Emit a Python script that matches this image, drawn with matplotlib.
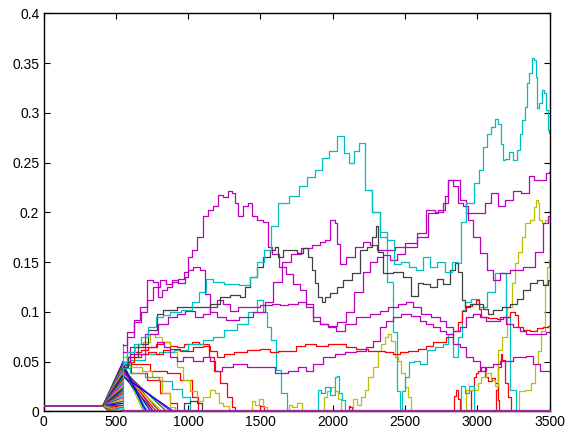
import matplotlib
matplotlib.use("Agg")
import matplotlib.pyplot as plt

plt.rcParams['font.family'] = ['Liberation Sans', 'DejaVu Sans']

# MATLAB (pre-2014) default colour order
B = (0, 0, 1); G = (0, 0.5, 0); R = (1, 0, 0); C = (0, 0.75, 0.75)
M = (0.75, 0, 0.75); Y = (0.75, 0.75, 0); K = (0.25, 0.25, 0.25)
ORDER = [B, G, R, C, M, Y, K]

x_ticks = [0, 500, 1000, 1500, 2000, 2500, 3000, 3500]
y_ticks = [0, 0.05, 0.1, 0.15, 0.2, 0.25, 0.3, 0.35, 0.4]
y_tick_labels = ['0', '0.05', '0.1', '0.15', '0.2', '0.25', '0.3', '0.35', '0.4']

# initial flat level and fan (x=410 -> 550)
base_level = 0.0055
fan_start_x = 410
fan_end_x = 550
fan_end_values = [0.05, 0.048, 0.046, 0.044, 0.042, 0.04, 0.038, 0.036, 0.034,
                  0.032, 0.03, 0.028, 0.026, 0.024, 0.022, 0.02, 0.018, 0.016,
                  0.014, 0.012, 0.01, 0.008, 0.006, 0.004, 0.002, 0.0]
fan_zero_x = [450, 470, 490, 510, 530]

# lines that decay to zero right after x=550
bundle_start = [0.048, 0.046, 0.045, 0.044, 0.043, 0.042, 0.041, 0.040, 0.039,
                0.038, 0.037, 0.036, 0.035]
bundle_end_x = [714, 700, 760, 690, 800, 740, 850, 780, 720, 880, 820, 760, 900]

blue_1 = [(550, 0.047), (690, 0.005), (714, 0.0)]

cyan_a = [(550, 0.05), (600, 0.06), (650, 0.068), (700, 0.075), (750, 0.085), (800, 0.095),
          (850, 0.097), (900, 0.1), (1000, 0.102), (1050, 0.11), (1100, 0.12), (1150, 0.133),
          (1200, 0.13), (1300, 0.128), (1400, 0.127), (1450, 0.135), (1500, 0.15), (1550, 0.162),
          (1590, 0.186), (1660, 0.209), (1730, 0.216), (1800, 0.226), (1850, 0.235), (1900, 0.243),
          (1950, 0.255), (2000, 0.262), (2056, 0.277), (2100, 0.26), (2130, 0.25), (2160, 0.262),
          (2200, 0.27), (2250, 0.222), (2300, 0.2), (2350, 0.18), (2400, 0.172), (2450, 0.148),
          (2500, 0.15), (2550, 0.145), (2600, 0.142), (2650, 0.155), (2700, 0.145), (2750, 0.15),
          (2800, 0.14), (2850, 0.15), (2880, 0.149), (2900, 0.19), (2950, 0.209), (3000, 0.229),
          (3030, 0.242), (3055, 0.266), (3080, 0.279), (3110, 0.286), (3135, 0.294), (3158, 0.289),
          (3170, 0.269), (3180, 0.253), (3205, 0.254), (3240, 0.261), (3260, 0.253), (3285, 0.263),
          (3300, 0.279), (3320, 0.293), (3340, 0.306), (3355, 0.33), (3365, 0.34), (3390, 0.355),
          (3400, 0.353), (3412, 0.336), (3420, 0.305), (3435, 0.31), (3455, 0.323), (3470, 0.32),
          (3482, 0.303), (3492, 0.283), (3500, 0.28)]
cyan_b = [(550, 0.048), (650, 0.052), (750, 0.058), (850, 0.06), (950, 0.062), (1050, 0.068),
          (1150, 0.072), (1200, 0.075), (1300, 0.082), (1382, 0.088), (1450, 0.1), (1500, 0.112),
          (1530, 0.1), (1560, 0.085), (1590, 0.072), (1622, 0.042), (1657, 0.018), (1705, 0.0)]
cyan_d = [(550, 0.044), (650, 0.038), (750, 0.034), (852, 0.03), (920, 0.022), (990, 0.014),
          (1030, 0.0)]
cyan_e = [(2250, 0.222), (2300, 0.2), (2350, 0.175), (2400, 0.13), (2430, 0.08), (2455, 0.02),
          (2470, 0.0), (2490, 0.02), (2509, 0.034), (2550, 0.05), (2580, 0.051), (2626, 0.048),
          (2674, 0.062), (2743, 0.065), (2786, 0.068), (2812, 0.078), (2855, 0.055), (2880, 0.075),
          (2904, 0.102), (2930, 0.11), (2980, 0.113), (3040, 0.105), (3100, 0.12), (3150, 0.139),
          (3190, 0.139), (3204, 0.095), (3247, 0.021), (3294, 0.0)]
cyan_s1 = [(1887, 0.0), (1910, 0.021), (1935, 0.018), (1956, 0.024), (2003, 0.016), (2025, 0.034),
           (2040, 0.035), (2049, 0.018), (2074, 0.011), (2097, 0.0)]
cyan_s2 = [(2880, 0.0), (2900, 0.025), (2930, 0.018), (2960, 0.025), (2990, 0.0)]
cyan_jump = [(550, 0.0), (550, 0.068)]

gray_k = [(550, 0.045), (621, 0.055), (690, 0.068), (760, 0.082), (806, 0.098), (852, 0.102),
          (990, 0.105), (1105, 0.105), (1198, 0.108), (1244, 0.115), (1336, 0.117), (1382, 0.115),
          (1405, 0.125), (1451, 0.135), (1498, 0.145), (1544, 0.155), (1590, 0.162), (1613, 0.165),
          (1636, 0.155), (1682, 0.162), (1728, 0.162), (1774, 0.159), (1820, 0.164), (1843, 0.155),
          (1866, 0.142), (1890, 0.129), (1913, 0.115), (1935, 0.11), (1959, 0.115), (2005, 0.119),
          (2051, 0.125), (2097, 0.132), (2166, 0.139), (2212, 0.162), (2258, 0.165), (2290, 0.175),
          (2305, 0.186), (2328, 0.16), (2374, 0.139), (2466, 0.14), (2512, 0.135), (2570, 0.116),
          (2604, 0.129), (2650, 0.128), (2696, 0.125), (2743, 0.133), (2789, 0.128), (2835, 0.142),
          (2858, 0.149), (2881, 0.14), (2904, 0.112), (2927, 0.105), (2973, 0.108), (3019, 0.108),
          (3066, 0.103), (3089, 0.098), (3135, 0.102), (3204, 0.105), (3250, 0.108), (3296, 0.113),
          (3342, 0.122), (3388, 0.129), (3434, 0.132), (3481, 0.127), (3500, 0.132)]
gray_s = [(960, 0.0), (990, 0.008), (1040, 0.01), (1080, 0.008), (1110, 0.0)]

yellow_1 = [(550, 0.055), (600, 0.06), (667, 0.065), (714, 0.07), (760, 0.078), (783, 0.075),
            (852, 0.07), (898, 0.06), (944, 0.045), (990, 0.031), (1036, 0.02), (1083, 0.01),
            (1129, 0.014), (1175, 0.021), (1200, 0.018), (1221, 0.008), (1260, 0.005), (1300, 0.0)]
yellow_2 = [(550, 0.05), (650, 0.045), (714, 0.041), (783, 0.034), (852, 0.018), (898, 0.004),
            (920, 0.0)]
yellow_s1 = [(1430, 0.0), (1450, 0.01), (1480, 0.006), (1500, 0.012), (1530, 0.004), (1560, 0.0)]
yellow_s2 = [(1690, 0.0), (1700, 0.006), (1740, 0.004), (1770, 0.008), (1800, 0.0)]
yellow_s3 = [(1930, 0.0), (1945, 0.014), (1980, 0.02), (2003, 0.024), (2030, 0.02), (2050, 0.012),
             (2065, 0.0)]
yellow_3 = [(2130, 0.0), (2150, 0.012), (2180, 0.006), (2210, 0.014), (2233, 0.021), (2256, 0.034),
            (2302, 0.045), (2325, 0.061), (2348, 0.068), (2371, 0.075), (2395, 0.078), (2417, 0.071),
            (2440, 0.055), (2464, 0.051), (2487, 0.038), (2510, 0.024), (2533, 0.014), (2556, 0.0)]
yellow_4 = [(2900, 0.0), (2948, 0.021), (2994, 0.021), (3017, 0.028), (3040, 0.034), (3086, 0.038),
            (3109, 0.031), (3132, 0.025), (3158, 0.062), (3180, 0.075), (3227, 0.105), (3250, 0.129),
            (3273, 0.149), (3296, 0.16), (3319, 0.175), (3342, 0.189), (3388, 0.192), (3400, 0.205),
            (3411, 0.212), (3423, 0.209), (3434, 0.192), (3457, 0.189), (3481, 0.192), (3500, 0.19)]
yellow_5 = [(3280, 0.0), (3300, 0.02), (3363, 0.021), (3386, 0.028), (3409, 0.048), (3432, 0.061),
            (3455, 0.081), (3478, 0.128), (3490, 0.145), (3500, 0.152)]

red_1 = [(550, 0.045), (600, 0.05), (650, 0.055), (700, 0.058), (750, 0.06), (800, 0.058),
         (850, 0.062), (900, 0.063), (990, 0.061), (1083, 0.065), (1129, 0.066), (1175, 0.061),
         (1221, 0.055), (1280, 0.058), (1359, 0.06), (1451, 0.062), (1544, 0.063), (1590, 0.06),
         (1659, 0.061), (1726, 0.061), (1772, 0.066), (1841, 0.068), (1933, 0.066), (2003, 0.068),
         (2072, 0.068), (2118, 0.065), (2210, 0.063), (2279, 0.061), (2325, 0.061), (2395, 0.06),
         (2440, 0.058), (2487, 0.06), (2556, 0.061), (2625, 0.063), (2671, 0.066), (2717, 0.07),
         (2763, 0.07), (2809, 0.075), (2855, 0.081), (2881, 0.09), (2902, 0.101), (2948, 0.106),
         (2983, 0.108), (3005, 0.112), (3017, 0.103), (3040, 0.095), (3109, 0.094), (3158, 0.093),
         (3204, 0.095), (3250, 0.1), (3273, 0.097), (3294, 0.085), (3342, 0.082), (3388, 0.081),
         (3434, 0.084), (3481, 0.085), (3500, 0.086)]
red_2 = [(550, 0.048), (600, 0.055), (650, 0.06), (700, 0.062), (750, 0.065), (800, 0.068),
         (850, 0.07), (900, 0.066), (950, 0.065), (1000, 0.068), (1050, 0.07), (1100, 0.068),
         (1130, 0.068), (1160, 0.055), (1198, 0.041), (1244, 0.028), (1290, 0.014), (1313, 0.004),
         (1340, 0.0)]
red_3 = [(550, 0.05), (667, 0.048), (806, 0.041), (898, 0.038), (990, 0.031), (1060, 0.014),
         (1083, 0.0)]
red_4 = [(550, 0.047), (667, 0.038), (760, 0.031), (852, 0.018), (898, 0.008), (944, 0.0)]
red_s1 = [(1490, 0.0), (1500, 0.005), (1520, 0.005), (1530, 0.0)]
red_s2 = [(2105, 0.0), (2115, 0.005), (2130, 0.004), (2140, 0.0)]
red_6 = [(2948, 0.0), (2971, 0.021), (2983, 0.034), (2994, 0.038), (3017, 0.041), (3040, 0.045),
         (3063, 0.034), (3086, 0.03), (3112, 0.033), (3135, 0.028), (3146, 0.011), (3158, 0.0)]
red_7 = [(3120, 0.0), (3135, 0.021), (3155, 0.045), (3167, 0.058), (3180, 0.052), (3201, 0.028),
         (3225, 0.014), (3248, 0.0)]
red_8 = [(2830, 0.0), (2845, 0.015), (2858, 0.021), (2875, 0.012), (2890, 0.0)]

# magenta: big early peak, then drifting down into the 0.08 ending
magenta_1 = [(550, 0.067), (600, 0.08), (650, 0.09), (700, 0.1), (737, 0.112), (783, 0.125),
             (829, 0.132), (870, 0.128), (910, 0.13), (950, 0.133), (990, 0.14), (1013, 0.155),
             (1036, 0.162), (1083, 0.175), (1117, 0.196), (1152, 0.202), (1198, 0.206), (1221, 0.217),
             (1260, 0.215), (1290, 0.221), (1313, 0.219), (1336, 0.209), (1359, 0.196), (1394, 0.206),
             (1428, 0.209), (1451, 0.196), (1498, 0.192), (1544, 0.19), (1555, 0.165), (1600, 0.158),
             (1657, 0.145), (1703, 0.138), (1749, 0.128), (1795, 0.122), (1841, 0.108), (1887, 0.095),
             (1933, 0.088), (2003, 0.085), (2049, 0.081), (2118, 0.088), (2210, 0.095), (2302, 0.098),
             (2348, 0.101), (2417, 0.105), (2487, 0.108), (2533, 0.11), (2579, 0.105), (2648, 0.098),
             (2717, 0.095), (2763, 0.091), (2809, 0.085), (2855, 0.081), (2902, 0.085), (2948, 0.095),
             (2994, 0.098), (3040, 0.095), (3086, 0.091), (3132, 0.091), (3178, 0.095), (3225, 0.088),
             (3270, 0.085), (3317, 0.081), (3363, 0.078), (3409, 0.078), (3455, 0.078), (3500, 0.08)]
# magenta: 0.14 hump, 0.1 level, spike near 2000, ends at 0.24
magenta_2 = [(550, 0.06), (600, 0.075), (650, 0.092), (690, 0.105), (737, 0.132), (783, 0.13),
             (806, 0.115), (829, 0.122), (875, 0.125), (898, 0.132), (967, 0.129), (990, 0.135),
             (1013, 0.142), (1060, 0.145), (1105, 0.142), (1129, 0.118), (1175, 0.1), (1221, 0.095),
             (1300, 0.092), (1400, 0.095), (1500, 0.1), (1560, 0.11), (1620, 0.13), (1680, 0.15),
             (1740, 0.158), (1820, 0.164), (1890, 0.167), (1935, 0.17), (1956, 0.172), (2003, 0.192),
             (2025, 0.189), (2037, 0.168), (2060, 0.148), (2120, 0.155), (2189, 0.165), (2235, 0.17),
             (2281, 0.167), (2330, 0.162), (2397, 0.162), (2466, 0.165), (2535, 0.169), (2627, 0.179),
             (2671, 0.202), (2740, 0.2), (2789, 0.209), (2812, 0.232), (2858, 0.232), (2902, 0.212),
             (2948, 0.199), (3040, 0.199), (3063, 0.209), (3132, 0.219), (3155, 0.206), (3225, 0.212),
             (3270, 0.221), (3340, 0.219), (3377, 0.236), (3411, 0.232), (3457, 0.232), (3492, 0.239),
             (3500, 0.24)]
# magenta: 0.1 level early, later the 0.2 ending
magenta_3 = [(550, 0.05), (650, 0.065), (750, 0.078), (829, 0.088), (898, 0.095), (944, 0.098),
             (1013, 0.101), (1083, 0.095), (1129, 0.098), (1175, 0.105), (1221, 0.112), (1267, 0.108),
             (1313, 0.101), (1382, 0.105), (1451, 0.105), (1544, 0.107), (1613, 0.108), (1654, 0.107),
             (1726, 0.108), (1795, 0.11), (1841, 0.105), (1887, 0.091), (1933, 0.088), (2003, 0.086),
             (2060, 0.09), (2120, 0.1), (2180, 0.12), (2235, 0.14), (2281, 0.15), (2328, 0.155),
             (2374, 0.157), (2420, 0.152), (2466, 0.158), (2535, 0.165), (2627, 0.175), (2696, 0.199),
             (2765, 0.202), (2789, 0.216), (2812, 0.232), (2858, 0.226), (2881, 0.209), (2927, 0.206),
             (2950, 0.192), (2996, 0.175), (3042, 0.159), (3089, 0.142), (3135, 0.132), (3180, 0.139),
             (3273, 0.142), (3365, 0.145), (3430, 0.16), (3481, 0.189), (3500, 0.196)]
magenta_low = [(550, 0.05), (650, 0.058), (750, 0.065), (820, 0.07), (852, 0.065), (898, 0.055),
               (944, 0.051), (990, 0.055), (1083, 0.051), (1129, 0.055), (1175, 0.051), (1198, 0.041),
               (1267, 0.045), (1359, 0.048), (1451, 0.045), (1544, 0.045), (1659, 0.038), (1726, 0.041),
               (1795, 0.045), (1841, 0.041), (1887, 0.048), (1980, 0.055), (2049, 0.058), (2118, 0.06),
               (2210, 0.061), (2256, 0.065), (2302, 0.071), (2348, 0.085), (2395, 0.091), (2440, 0.095),
               (2509, 0.098), (2579, 0.096), (2625, 0.091), (2671, 0.088), (2717, 0.085), (2763, 0.081),
               (2809, 0.078), (2855, 0.068), (2902, 0.065), (2948, 0.055), (2994, 0.051), (3040, 0.041),
               (3086, 0.045), (3132, 0.048), (3178, 0.051), (3225, 0.051), (3270, 0.055), (3317, 0.055),
               (3363, 0.056), (3409, 0.048), (3455, 0.041), (3500, 0.041)]

zero_line = [(550, 0.0), (3500, 0.0)]

fig = plt.figure(figsize=(5.66, 4.34), dpi=100)
ax = fig.add_axes([0.0769, 0.0523, 0.894, 0.9171])

LW = 0.9

def draw(pairs, color, lw=LW, steps=True, **kw):
    xs = [p[0] for p in pairs]
    ys = [p[1] for p in pairs]
    ax.plot(xs, ys, color=color, lw=lw,
            drawstyle='steps-mid' if steps else 'default', **kw)

# flat start
ax.plot([0, fan_start_x], [0.0, 0.0], color=K, lw=LW)

# fan
for i, v in enumerate(fan_end_values):
    ax.plot([fan_start_x, fan_end_x], [base_level, v], color=ORDER[i % 7], lw=LW)
for i, xz in enumerate(fan_zero_x):
    ax.plot([fan_start_x, xz, fan_end_x], [base_level, 0.0, 0.0], color=ORDER[(i + 1) % 7], lw=LW)

# decaying bundle
for i, (v, xe) in enumerate(zip(bundle_start, bundle_end_x)):
    ax.plot([fan_end_x, xe], [v, 0.0], color=ORDER[(i + 2) % 7], lw=LW)
draw(blue_1, B, steps=False)

for pairs in [red_3, red_4, red_2, red_s1, red_s2, red_6, red_7, red_8]:
    draw(pairs, R)
for pairs in [yellow_1, yellow_2, yellow_s1, yellow_s2, yellow_s3, yellow_3, yellow_4, yellow_5]:
    draw(pairs, Y)
for pairs in [cyan_d, cyan_b, cyan_e, cyan_s1, cyan_s2]:
    draw(pairs, C)
draw(cyan_jump, C, steps=False)
draw(gray_s, K)
draw(red_1, R)
for pairs in [magenta_low, magenta_3, magenta_2, magenta_1]:
    draw(pairs, M)
draw(gray_k, K)
draw(cyan_a, C)

draw(zero_line, (0.6, 0.15, 0.6), lw=1.6, steps=False, clip_on=False, zorder=3)
ax.plot([0, fan_start_x], [base_level, base_level], color=(0.6, 0.15, 0.6), lw=1.4, zorder=3)

ax.set_xlim(0, 3500)
ax.set_ylim(0, 0.4)
ax.set_xticks(x_ticks)
ax.set_xticklabels([str(t) for t in x_ticks])
ax.set_yticks(y_ticks)
ax.set_yticklabels(y_tick_labels)
ax.tick_params(direction='in', length=4, width=0.8, top=True, right=True,
               labelsize=10, pad=3, colors='black')
for s in ax.spines.values():
    s.set_linewidth(1.0)
    s.set_color('black')

fig.savefig('out.png', dpi=100)
